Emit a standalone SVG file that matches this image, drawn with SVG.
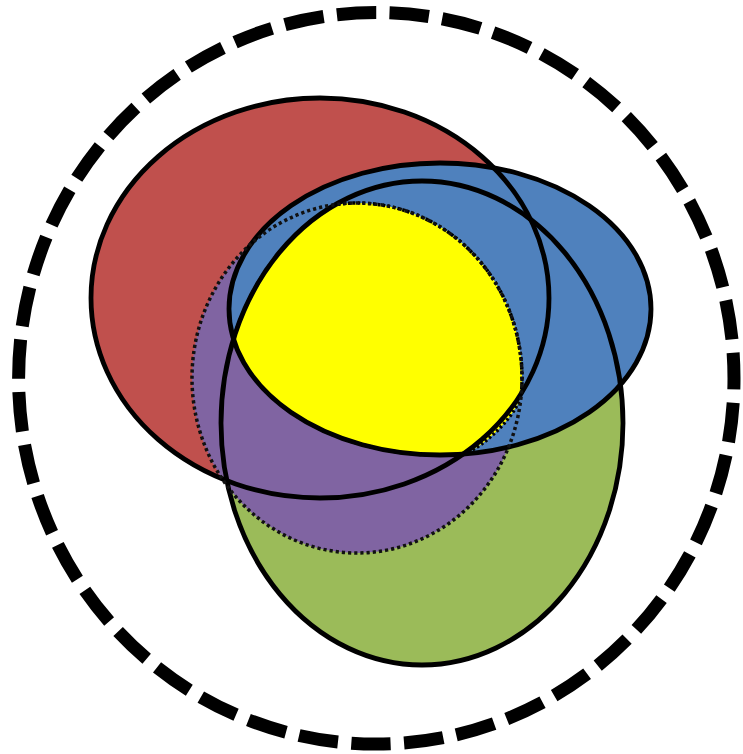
<svg xmlns="http://www.w3.org/2000/svg" width="743" height="754" viewBox="0 0 743 754">
<style>
.solid{fill:none;stroke:#000;stroke-width:4.8}
.dot{fill:none;stroke:#111;stroke-width:3.5;stroke-dasharray:3.2 3}
</style>
<rect width="743" height="754" fill="#fff"/>
<g id="outer">
<ellipse cx="376.3" cy="378.3" rx="357.7" ry="365.8" fill="none" stroke="#000" stroke-width="13" stroke-dasharray="39.5 13.4" stroke-dashoffset="28.3"/>
</g>
<g id="fills">
<ellipse id="red" cx="320" cy="298" rx="229" ry="200" fill="#C0504D"/>
<ellipse id="green" cx="422" cy="423" rx="201" ry="242" fill="#9BBB59"/>
<ellipse id="purple" cx="357" cy="378" rx="165" ry="175" fill="#8064A2"/>
<ellipse id="blue" cx="440" cy="309" rx="211" ry="146" fill="#4F81BD"/>
</g>
<g id="yellow">
<path d="M233.5,338.8 A201,242 0 0 1 335.7,204.5 A165,175 0 0 1 521.5,392 C520,412 485,447 463,454.1 A211,146 0 0 1 233.5,338.8 Z" fill="#FFFF00" stroke="#000" stroke-width="3.5" stroke-dasharray="2.5 2.5"/>
</g>
<g id="outlines">
<ellipse class="solid" cx="320" cy="298" rx="229" ry="200"/>
<ellipse class="solid" cx="422" cy="423" rx="201" ry="242"/>
<ellipse class="solid" cx="440" cy="309" rx="211" ry="146"/>
<ellipse class="dot" cx="357" cy="378" rx="165" ry="175"/>
</g>
</svg>
